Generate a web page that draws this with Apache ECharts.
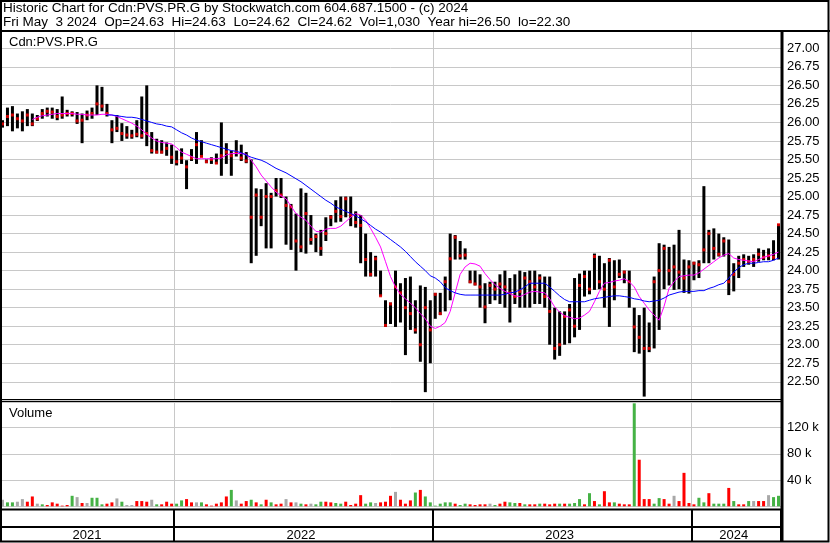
<!DOCTYPE html>
<html><head><meta charset="utf-8">
<script src="https://cdn.jsdelivr.net/npm/echarts@6/dist/echarts.min.js"></script>
<style>html,body{margin:0;padding:0;background:#fff}#c{width:830px;height:543px}</style>
</head><body><div id="c"></div>
<script>
// Weekly (Friday) categories
const dates = [
'2021-05-07','2021-05-14','2021-05-21','2021-05-28','2021-06-04','2021-06-11','2021-06-18','2021-06-25','2021-07-02','2021-07-09',
'2021-07-16','2021-07-23','2021-07-30','2021-08-06','2021-08-13','2021-08-20','2021-08-27','2021-09-03','2021-09-10','2021-09-17',
'2021-09-24','2021-10-01','2021-10-08','2021-10-15','2021-10-22','2021-10-29','2021-11-05','2021-11-12','2021-11-19','2021-11-26',
'2021-12-03','2021-12-10','2021-12-17','2021-12-24','2021-12-31','2022-01-07','2022-01-14','2022-01-21','2022-01-28','2022-02-04',
'2022-02-11','2022-02-18','2022-02-25','2022-03-04','2022-03-11','2022-03-18','2022-03-25','2022-04-01','2022-04-08','2022-04-15',
'2022-04-22','2022-04-29','2022-05-06','2022-05-13','2022-05-20','2022-05-27','2022-06-03','2022-06-10','2022-06-17','2022-06-24',
'2022-07-01','2022-07-08','2022-07-15','2022-07-22','2022-07-29','2022-08-05','2022-08-12','2022-08-19','2022-08-26','2022-09-02',
'2022-09-09','2022-09-16','2022-09-23','2022-09-30','2022-10-07','2022-10-14','2022-10-21','2022-10-28','2022-11-04','2022-11-11',
'2022-11-18','2022-11-25','2022-12-02','2022-12-09','2022-12-16','2022-12-23','2022-12-30','2023-01-06','2023-01-13','2023-01-20',
'2023-01-27','2023-02-03','2023-02-10','2023-02-17','2023-02-24','2023-03-03','2023-03-10','2023-03-17','2023-03-24','2023-03-31',
'2023-04-07','2023-04-14','2023-04-21','2023-04-28','2023-05-05','2023-05-12','2023-05-19','2023-05-26','2023-06-02','2023-06-09',
'2023-06-16','2023-06-23','2023-06-30','2023-07-07','2023-07-14','2023-07-21','2023-07-28','2023-08-04','2023-08-11','2023-08-18',
'2023-08-25','2023-09-01','2023-09-08','2023-09-15','2023-09-22','2023-09-29','2023-10-06','2023-10-13','2023-10-20','2023-10-27',
'2023-11-03','2023-11-10','2023-11-17','2023-11-24','2023-12-01','2023-12-08','2023-12-15','2023-12-22','2023-12-29','2024-01-05',
'2024-01-12','2024-01-19','2024-01-26','2024-02-02','2024-02-09','2024-02-16','2024-02-23','2024-03-01','2024-03-08','2024-03-15',
'2024-03-22','2024-03-29','2024-04-05','2024-04-12','2024-04-19','2024-04-26','2024-05-03'];

const highs = [
26.03,26.20,26.22,26.12,26.15,26.18,26.12,26.10,26.18,26.20,
26.20,26.18,26.35,26.17,26.15,26.14,26.12,26.16,26.20,26.50,
26.48,26.25,26.03,26.10,25.99,25.95,25.90,26.03,26.35,26.50,
25.87,25.78,25.76,25.73,25.70,25.62,25.65,25.49,25.64,25.87,
25.76,25.50,25.53,25.58,26.00,25.72,25.62,25.76,25.70,25.60,
25.50,25.11,25.10,25.18,25.05,25.25,25.25,25.00,24.90,24.77,
25.11,25.05,24.75,24.50,24.55,24.72,24.75,24.95,25.00,25.00,
25.00,24.80,24.75,24.50,24.25,24.20,24.00,23.60,23.57,24.00,
23.83,23.90,23.92,23.60,23.80,23.78,23.60,23.70,23.70,23.92,
24.50,24.48,24.40,24.30,24.00,24.00,23.95,23.83,23.85,23.85,
23.95,24.00,23.90,23.95,24.00,23.98,24.00,24.00,23.95,23.92,
23.92,23.50,23.45,23.45,23.55,23.90,23.96,24.00,24.00,24.23,
24.20,24.10,24.17,24.14,24.15,24.00,24.00,23.50,23.40,23.50,
23.30,23.92,24.37,24.35,24.32,24.35,24.55,24.15,24.14,24.12,
24.14,25.14,24.55,24.57,24.50,24.45,24.42,24.10,24.20,24.22,
24.20,24.22,24.30,24.28,24.30,24.41,24.63];

const lows = [
25.93,25.95,25.88,25.92,25.88,25.95,25.95,26.02,26.05,26.08,
26.05,26.03,26.05,26.08,26.08,25.98,25.72,26.03,26.05,26.10,
26.15,26.08,25.72,25.87,25.75,25.78,25.78,25.80,25.78,25.68,
25.58,25.58,25.58,25.55,25.44,25.42,25.44,25.10,25.48,25.44,
25.53,25.45,25.44,25.44,25.28,25.44,25.28,25.54,25.48,25.45,
24.10,24.20,24.60,24.30,24.30,25.00,24.98,24.35,24.28,24.00,
24.25,24.23,24.35,24.25,24.20,24.40,24.60,24.65,24.66,24.72,
24.60,24.58,24.10,23.92,23.92,23.92,23.65,23.24,23.28,23.24,
23.30,22.86,23.20,23.15,22.77,22.36,22.75,23.35,23.40,23.45,
23.60,24.15,24.15,24.15,23.83,23.80,23.50,23.29,23.55,23.60,
23.55,23.50,23.30,23.55,23.50,23.50,23.50,23.55,23.55,23.50,
23.00,22.80,22.85,23.00,23.02,23.10,23.20,23.65,23.68,23.74,
23.75,23.50,23.24,23.60,23.90,23.83,23.50,22.90,22.88,22.30,
22.90,22.95,23.20,23.75,23.80,23.74,23.75,23.70,23.69,23.87,
23.90,24.10,24.10,24.15,24.19,24.19,23.67,23.72,23.90,24.05,
24.08,24.05,24.12,24.14,24.14,24.14,24.15];

const closes = [
25.98,26.08,26.10,26.05,26.02,26.10,25.98,26.05,26.12,26.15,
26.14,26.08,26.10,26.12,26.12,26.02,26.03,26.10,26.12,26.25,
26.22,26.12,25.90,25.92,25.85,25.83,25.82,25.84,25.82,25.85,
25.62,25.60,25.60,25.65,25.53,25.47,25.52,25.40,25.52,25.70,
25.54,25.47,25.50,25.45,25.55,25.60,25.55,25.60,25.52,25.48,
24.72,25.02,24.72,25.00,25.00,25.08,25.02,24.88,24.86,24.40,
24.32,24.77,24.42,24.46,24.30,24.50,24.72,24.80,24.73,24.97,
24.75,24.65,24.61,24.15,23.95,24.16,23.66,23.26,23.55,23.78,
23.70,23.50,23.42,23.20,23.00,23.50,23.20,23.68,23.42,23.85,
24.16,24.45,24.20,24.21,23.85,23.82,23.78,23.51,23.80,23.75,
23.82,23.78,23.70,23.65,23.72,23.90,23.85,23.78,23.90,23.65,
23.45,22.95,23.00,23.38,23.47,23.25,23.80,23.92,23.75,24.19,
23.85,23.75,24.14,23.78,23.95,23.98,23.85,23.24,23.10,22.95,
22.95,23.85,24.00,24.30,24.00,24.05,23.98,23.90,24.05,24.10,
24.08,24.28,24.50,24.30,24.22,24.40,23.85,23.95,24.10,24.15,
24.12,24.15,24.22,24.18,24.20,24.18,24.62];

// short moving average (magenta)
const maShort = [
null,null,null,null,null,null,26.04,26.07,26.09,26.10,
26.11,26.12,26.12,26.12,26.12,26.11,26.11,26.10,26.10,26.10,
26.11,26.11,26.10,26.08,26.05,26.02,25.99,25.95,25.90,25.84,
25.79,25.75,25.73,25.72,25.71,25.66,25.60,25.57,25.54,25.51,
25.51,25.51,25.51,25.51,25.52,25.56,25.58,25.58,25.58,25.57,
25.49,25.40,25.29,25.21,25.13,25.06,25.01,24.97,24.87,24.77,
24.72,24.68,24.60,24.53,24.52,24.56,24.57,24.57,24.60,24.66,
24.72,24.77,24.75,24.68,24.57,24.45,24.32,24.12,23.92,23.78,
23.68,23.62,23.56,23.50,23.42,23.35,23.25,23.22,23.25,23.30,
23.45,23.70,23.95,24.05,24.10,24.09,24.06,23.96,23.88,23.81,
23.76,23.72,23.69,23.66,23.65,23.68,23.71,23.72,23.71,23.70,
23.62,23.51,23.44,23.39,23.37,23.35,23.36,23.40,23.45,23.58,
23.72,23.83,23.84,23.86,23.87,23.89,23.85,23.78,23.65,23.56,
23.47,23.40,23.33,23.52,23.76,23.85,23.92,23.93,23.94,23.94,
23.97,24.02,24.07,24.12,24.17,24.21,24.23,24.17,24.15,24.14,
24.13,24.12,24.15,24.18,24.20,24.22,24.25];

// long moving average (blue)
const maLong = [
null,null,null,null,null,null,null,null,null,null,
null,null,null,null,null,null,null,null,null,null,
null,26.10,26.10,26.09,26.08,26.07,26.07,26.06,26.04,26.02,
26.00,25.98,25.97,25.95,25.94,25.90,25.86,25.83,25.79,25.76,
25.74,25.72,25.70,25.68,25.66,25.64,25.62,25.61,25.59,25.56,
25.53,25.51,25.49,25.46,25.42,25.38,25.35,25.32,25.28,25.24,
25.20,25.15,25.10,25.05,25.00,24.95,24.91,24.86,24.83,24.80,
24.77,24.74,24.70,24.66,24.61,24.56,24.52,24.47,24.42,24.37,
24.32,24.26,24.19,24.12,24.06,24.00,23.93,23.90,23.85,23.77,
23.73,23.70,23.68,23.67,23.67,23.67,23.67,23.67,23.67,23.67,
23.67,23.68,23.70,23.71,23.74,23.78,23.83,23.83,23.83,23.83,
23.78,23.72,23.66,23.61,23.58,23.58,23.58,23.58,23.60,23.62,
23.63,23.64,23.65,23.66,23.66,23.65,23.64,23.62,23.61,23.59,
23.58,23.59,23.60,23.63,23.67,23.69,23.71,23.72,23.72,23.72,
23.73,23.73,23.76,23.78,23.81,23.83,23.90,23.98,24.04,24.08,
24.10,24.10,24.11,24.12,24.12,24.14,24.17];

// volume (thousands of shares) and bar colour code: g = up, r = down, n = unchanged
const volK = [
10,6,6,7,11,7,15,4,3,2,
6,4,1,2,16,14,5,5,13,13,
3,4,6,12,7,2,2,8,8,7,
10,3,3,7,4,4,9,11,6,6,
6,3,1,4,6,15,25,9,4,8,
10,6,3,10,6,3,4,11,6,6,
4,3,4,3,7,7,6,5,4,7,
2,4,17,4,6,5,6,7,16,22,
10,4,9,21,25,15,6,1,4,6,
6,4,2,4,3,2,3,3,4,2,
4,7,6,5,5,3,3,3,4,4,
3,4,4,4,4,5,11,3,20,8,
3,23,6,6,4,3,3,157,71,11,
11,4,12.5,11,4,16,8,51,5,3,
13,6,20,4,4,4,28,8,3,3,
8,8,8,8,17,14,16];

const volColor = [
'n','g','g','n','n','r','r','n','g','r',
'r','r','r','r','g','n','r','n','g','g',
'g','r','r','n','g','n','n','r','r','r',
'n','g','r','r','r','g','g','r','r','n',
'g','r','r','r','r','r','g','n','r','r',
'g','r','g','r','g','r','r','n','r','n',
'g','r','n','g','g','r','r','g','g','r',
'r','r','r','g','g','n','r','r','r','n',
'r','r','r','g','r','g','g','g','g','g',
'g','r','g','g','r','r','r','r','n','g',
'r','r','g','g','r','g','r','r','g','r',
'r','r','g','r','g','g','g','r','g','r',
'g','r','r','g','r','r','r','g','r','r',
'r','g','g','r','r','n','r','r','r','r',
'g','g','r','g','g','g','r','g','r','r',
'g','n','r','r','n','g','g'];

const headerLine1 = 'Historic Chart for Cdn:PVS.PR.G by Stockwatch.com 604.687.1500 - (c) 2024';
const headerLine2 = 'Fri May  3 2024  Op=24.63  Hi=24.63  Lo=24.62  Cl=24.62  Vol=1,030  Year hi=26.50  lo=22.30';
const symbolLabel = 'Cdn:PVS.PR.G';
const volumeLabel = 'Volume';

const FONT = '"Liberation Sans", Arial, sans-serif';
const GRIDC = '#C8C8C8';
const VOLC = {g:'#45B245', r:'#FF0000', n:'#A8A8A8'};

const yearOf = d => d.slice(0,4);
const isYearStart = i => i > 0 && i < dates.length && yearOf(dates[i]) !== yearOf(dates[i-1]);
const yearMids = new Set();
(function(){
  let start = 0;
  for (let i = 1; i <= dates.length; i++) {
    if (i === dates.length || yearOf(dates[i]) !== yearOf(dates[i-1])) {
      yearMids.add(Math.floor((start + i - 1) / 2));
      start = i;
    }
  }
})();

const chart = echarts.init(document.getElementById('c'), null, {renderer:'canvas'});

function catAxis(gi, extra) {
  return Object.assign({
    type:'category', gridIndex:gi, data:dates, boundaryGap:true,
    axisLine:{show:false}, axisTick:{show:false}, axisLabel:{show:false},
    splitLine:{show:true, interval:(i)=>isYearStart(i), lineStyle:{color:GRIDC, width:1}}
  }, extra || {});
}

const GL = -2, GR = 49;
const option = {
  animation:false,
  backgroundColor:'#fff',
  grid:[
    {left:GL, right:GR, top:29.8, height:370.5},
    {left:GL, right:GR, top:402, height:104.3},
    {left:GL, right:GR, top:510, height:31}
  ],
  xAxis:[
    catAxis(0),
    catAxis(1),
    catAxis(2, {
      axisLabel:{show:true, inside:true, margin:-1, interval:(i)=>yearMids.has(i),
        formatter:(v)=>yearOf(v), color:'#000', fontFamily:FONT, fontSize:13},
      splitLine:{show:true, interval:(i)=>isYearStart(i), lineStyle:{color:'#000', width:2}}
    })
  ],
  yAxis:[
    {type:'value', gridIndex:0, position:'right', min:22.25, max:27.25, interval:0.25,
      axisLine:{show:false}, axisTick:{show:false},
      splitLine:{show:true, lineStyle:{color:GRIDC, width:1}},
      axisLabel:{margin:6, color:'#000', fontFamily:FONT, fontSize:13,
        formatter:(v)=>(v < 22.4 || v > 27.1) ? '' : v.toFixed(2)}},
    {type:'value', gridIndex:1, position:'right', min:0, max:159, interval:40,
      axisLine:{show:false}, axisTick:{show:false},
      splitLine:{show:true, lineStyle:{color:GRIDC, width:1}},
      axisLabel:{margin:6, color:'#000', fontFamily:FONT, fontSize:13,
        formatter:(v)=>(v > 0 && v < 150) ? (v + ' k') : ''}},
    {type:'value', gridIndex:2, show:false}
  ],
  series:[
    {type:'custom', xAxisIndex:0, yAxisIndex:0, silent:true, z:2,
      data: highs.map((h,i)=>[i, h, lows[i]]),
      encode:{x:0, y:[1,2]},
      renderItem:function(params, api){
        const i = api.value(0);
        const a = api.coord([i, api.value(1)]);
        const b = api.coord([i, api.value(2)]);
        return {type:'line', shape:{x1:a[0], y1:a[1], x2:b[0], y2:b[1]},
          style:{stroke:'#000', lineWidth:3}};
      }},
    {type:'scatter', xAxisIndex:0, yAxisIndex:0, data:closes, symbol:'rect', symbolSize:3,
      itemStyle:{color:'#FF0000'}, silent:true, z:3},
    {type:'line', xAxisIndex:0, yAxisIndex:0, data:maShort, showSymbol:false, symbol:'none',
      lineStyle:{color:'#FF00FF', width:1}, silent:true, z:4},
    {type:'line', xAxisIndex:0, yAxisIndex:0, data:maLong, showSymbol:false, symbol:'none',
      lineStyle:{color:'#0000FF', width:1}, silent:true, z:4},
    {type:'bar', xAxisIndex:1, yAxisIndex:1, barWidth:3, silent:true,
      data: volK.map((v,i)=>({value:v, itemStyle:{color:VOLC[volColor[i]]}}))}
  ],
  graphic:[
    {type:'rect', z:100, shape:{x:0, y:0, width:830, height:31}, style:{fill:'#fff'}},
    {type:'text', z:101, x:3, y:8.5, style:{text:headerLine1, font:'13.5px ' + FONT, fill:'#000', verticalAlign:'middle', textVerticalAlign:'middle'}},
    {type:'text', z:101, x:3, y:22.5, style:{text:headerLine2, font:'13.5px ' + FONT, fill:'#000', verticalAlign:'middle', textVerticalAlign:'middle'}},
    {type:'text', z:101, x:9, y:42, style:{text:symbolLabel, font:'13px ' + FONT, fill:'#000', verticalAlign:'middle', textVerticalAlign:'middle'}},
    {type:'text', z:101, x:9, y:413, style:{text:volumeLabel, font:'13px ' + FONT, fill:'#000', verticalAlign:'middle', textVerticalAlign:'middle'}},
    // frame lines
    {type:'line', z:102, shape:{x1:0, y1:31, x2:830, y2:31}, style:{stroke:'#000', lineWidth:2}},
    {type:'line', z:102, shape:{x1:0, y1:399.5, x2:782, y2:399.5}, style:{stroke:'#000', lineWidth:1}},
    {type:'line', z:102, shape:{x1:0, y1:401.5, x2:782, y2:401.5}, style:{stroke:'#000', lineWidth:1}},
    {type:'line', z:102, shape:{x1:0, y1:509.5, x2:782, y2:509.5}, style:{stroke:'#000', lineWidth:2}},
    {type:'line', z:102, shape:{x1:0, y1:527, x2:782, y2:527}, style:{stroke:'#000', lineWidth:2}},
    {type:'line', z:102, shape:{x1:782, y1:31, x2:782, y2:542}, style:{stroke:'#000', lineWidth:3}},
    {type:'rect', z:102, shape:{x:1, y:1, width:827.5, height:540.5}, style:{fill:null, stroke:'#000', lineWidth:2}}
  ]
};
chart.setOption(option);
</script></body></html>
